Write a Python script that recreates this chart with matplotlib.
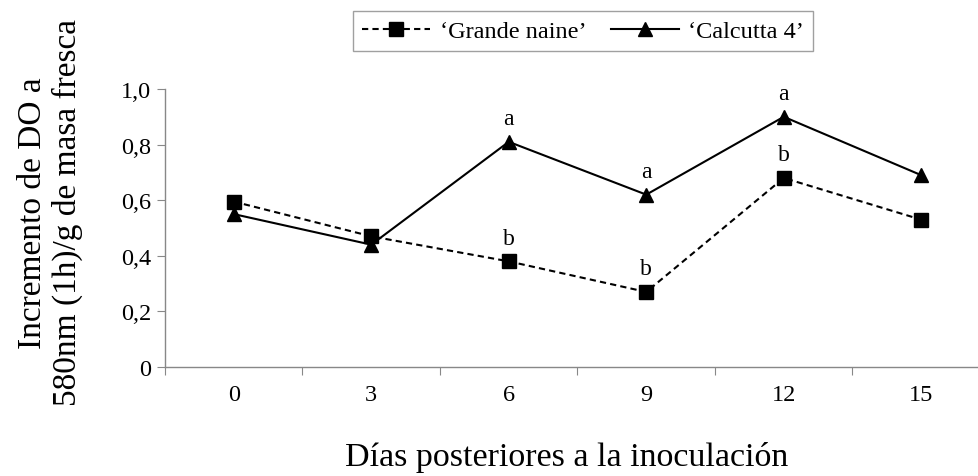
import matplotlib.pyplot as plt
import numpy as np

plt.rcParams['font.family'] = ['Liberation Serif', 'DejaVu Serif']

dias = ['0', '3', '6', '9', '12', '15']
grande_naine = [0.595, 0.47, 0.38, 0.27, 0.68, 0.53]
calcutta = [0.55, 0.44, 0.81, 0.62, 0.90, 0.69]
letras_gn = ['', '', 'b', 'b', 'b', '']
letras_c4 = ['', '', 'a', 'a', 'a', '']
yticks = [0, 0.2, 0.4, 0.6, 0.8, 1.0]
yticklabels = ['0', '0,2', '0,4', '0,6', '0,8', '1,0']

fig = plt.figure(figsize=(9.79, 4.77), dpi=100)
ax = fig.add_axes([165 / 979, (477 - 368) / 477, (990 - 165) / 979, 278 / 477])

x = np.arange(len(dias))
l1, = ax.plot(x, grande_naine, color='black', linestyle=(0, (3, 2)), lw=1.5,
              marker='s', markersize=10, clip_on=False)
l2, = ax.plot(x, calcutta, color='black', linestyle='-', lw=1.5,
              marker='^', markersize=10.5, clip_on=False)

for i in range(len(dias)):
    if letras_c4[i]:
        ax.text(x[i], calcutta[i] + 0.045, letras_c4[i], ha='center', va='bottom', fontsize=17)
    if letras_gn[i]:
        ax.text(x[i], grande_naine[i] + 0.045, letras_gn[i], ha='center', va='bottom', fontsize=17)

ax.set_xlim(-0.5, len(dias) - 0.5)
ax.set_ylim(0, 1.0)
ax.set_yticks(yticks)
ax.set_yticklabels(yticklabels, fontsize=17.5)
ax.set_xticks(np.arange(len(dias) + 1) - 0.5)
ax.set_xticklabels([])
ax.set_xticks(x, minor=True)
ax.set_xticklabels(dias, minor=True, fontsize=17.5)
ax.tick_params(axis='x', which='minor', length=0, pad=12)
ax.tick_params(axis='x', which='major', length=6, color='#888888', direction='out')
ax.tick_params(axis='y', length=6, color='#888888', direction='out', pad=4)

for s in ['top', 'right']:
    ax.spines[s].set_visible(False)
for s in ['left', 'bottom']:
    ax.spines[s].set_color('#888888')
    ax.spines[s].set_linewidth(1)

fig.text(50 / 979, 1 - 213 / 477, 'Incremento de DO a\n580nm (1h)/g de masa fresca',
         fontsize=24, rotation=90, ha='center', va='center', multialignment='center',
         linespacing=1.15)
fig.text(567 / 979, 1 - 458 / 477, 'Días posteriores a la inoculación', fontsize=24.5,
         ha='center', va='center')

leg = fig.legend([l1, l2], ['‘Grande naine’', '‘Calcutta 4’'], loc='center',
                 bbox_to_anchor=(583 / 979, 1 - 32 / 477), ncol=2, fontsize=17.5,
                 frameon=True, fancybox=False, edgecolor='#888888', handlelength=2.8,
                 handletextpad=0.4, columnspacing=1.0, borderpad=0.35)
leg.get_frame().set_linewidth(1)

fig.savefig('out.png', dpi=100)
